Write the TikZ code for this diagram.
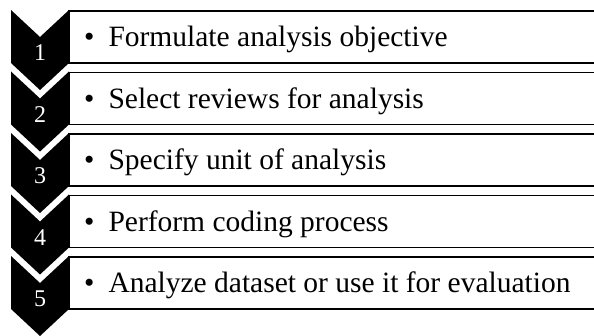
\documentclass[tikz,border=0pt]{standalone}
\usepackage{fontspec}
\setmainfont{Liberation Serif}
\usepackage{tikz}
\usetikzlibrary{positioning,calc}

\begin{document}
\begin{tikzpicture}[
  x=1pt, y=-1pt,
  chevron/.style={fill=black},
  stepbox/.style={draw=black, line width=1.8pt, fill=white},
  stepnum/.style={text=white, font=\fontsize{24}{24}\selectfont, inner sep=0pt},
  steptext/.style={anchor=base west, inner sep=0pt, font=\fontsize{29.5}{31}\selectfont}
]
  \useasboundingbox (0,0) rectangle (594,336);
  \clip (0,0) rectangle (594,336);

  % Steps
  \foreach \k/\txt in {1/Formulate analysis objective,
                       2/Select reviews for analysis,
                       3/Specify unit of analysis,
                       4/Perform coding process,
                       5/Analyze dataset or use it for evaluation}{
    \pgfmathsetmacro{\t}{10+61.5*(\k-1)}
    % box
    \draw[stepbox] (69,\t+1) rectangle (610,\t+53);
    % chevron
    \fill[chevron] (11,\t) -- (40,\t+27) -- (69,\t) -- (69,\t+53)
      -- (40,\t+80) -- (11,\t+53) -- cycle;
    \node[stepnum] (num\k) at (40,\t+43) {\k};
    \node[steptext] (item\k) at (84,\t+37) {\textbullet\hspace{14pt}\txt};
  }
\end{tikzpicture}
\end{document}
